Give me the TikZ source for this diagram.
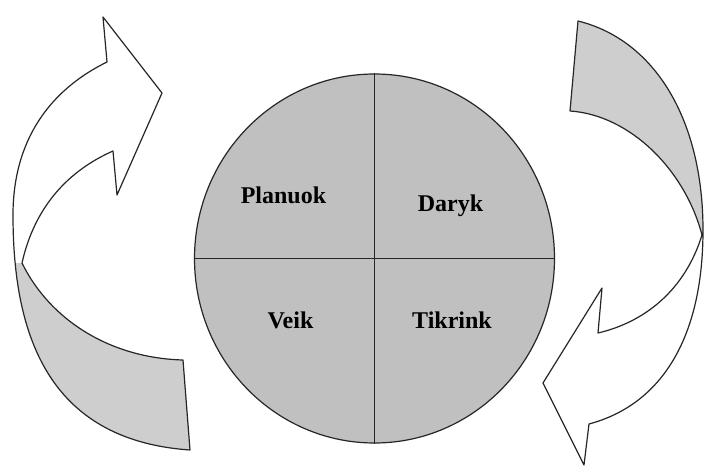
\documentclass[tikz,border=0pt]{standalone}
\usepackage{fontspec}
\setmainfont{Liberation Serif}
\usetikzlibrary{shapes.geometric}
\definecolor{circfill}{RGB}{192,192,192}
\definecolor{arrowfill}{RGB}{206,206,206}
\tikzset{
  outline/.style={draw=black!85, line width=0.9pt, line join=round},
  label/.style={font=\fontsize{18}{20}\selectfont\bfseries, inner sep=0pt, anchor=base}
}
\begin{document}
\begin{tikzpicture}[x=0.75pt, y=-0.75pt]
\useasboundingbox (0,0) rectangle (704,467);
\def\leftshape{(107,62) .. controls (50,90) and (13,140) .. (13,215) .. controls (13,330) and (45,440) .. (190,450) -- (183,360) .. controls (110,358) and (50,320) .. (22,263) .. controls (35,205) and (70,170) .. (113,151) -- (117,195) -- (162,93) -- (103,17) -- cycle}
\def\rightshape{(578,21) .. controls (655,40) and (703,120) .. (703,230) .. controls (703,340) and (660,405) .. (589,424) -- (584,465) -- (543,383) -- (602,288) -- (598,333) .. controls (645,322) and (685,290) .. (702,235) .. controls (685,170) and (630,115) .. (570,111) -- cycle}
% left arrow
\fill[white] \leftshape;
\begin{scope}
  \clip (0,263) rectangle (250,467);
  \fill[arrowfill] \leftshape;
\end{scope}
\path[outline] \leftshape;
% right arrow
\fill[white] \rightshape;
\begin{scope}
  \clip (500,0) rectangle (704,235);
  \fill[arrowfill] \rightshape;
\end{scope}
\path[outline] \rightshape;
% circle
\node[outline, fill=circfill, ellipse, minimum width=270pt, minimum height=276.75pt, inner sep=0pt] (c) at (374.5,258.5) {};
\draw[outline] (c.north) -- (c.south);
\draw[outline] (c.west) -- (c.east);
\node[label] (p) at (283.5,204) {Planuok};
\node[label] (d) at (450.5,211) {Daryk};
\node[label] (v) at (290.5,328) {Veik};
\node[label] (t) at (452,328) {Tikrink};
\end{tikzpicture}
\end{document}
